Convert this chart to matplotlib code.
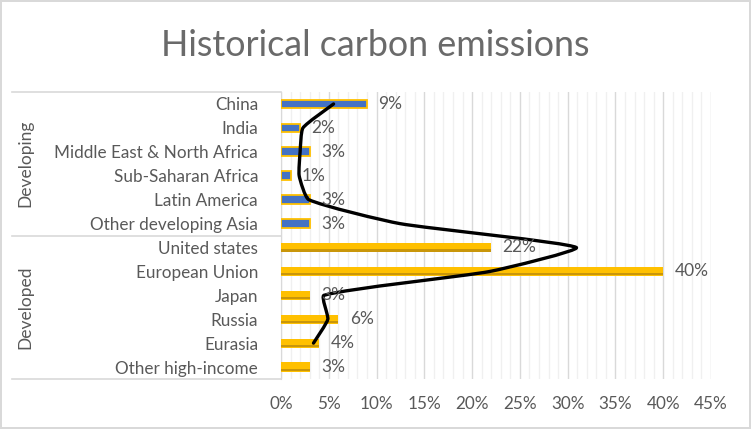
import matplotlib.pyplot as plt
import numpy as np
from matplotlib.path import Path
from matplotlib.patches import PathPatch
from matplotlib.ticker import MultipleLocator, FuncFormatter
from matplotlib.transforms import blended_transform_factory

regions = ["China", "India", "Middle East & North Africa", "Sub-Saharan Africa",
           "Latin America", "Other developing Asia", "United states", "European Union",
           "Japan", "Russia", "Eurasia", "Other high-income"]
groups = ["Developing", "Developed"]
group_sizes = [6, 6]
shares = [9, 2, 3, 1, 3, 3, 22, 40, 3, 6, 4, 3]
# black smoothed line, one point per row (no point on the last row)
trend = [5.5, 2.3, 2.0, 1.9, 2.9, 12.4, 30.9, 21.9, 4.5, 4.9, 3.4]

GREY = "#595959"
FONT = "Lato"


def smooth_path(ax, xs, ys):
    # bezier segments through the points, arms shrunk by the neighbouring
    # segment lengths (worked out in pixels so x and y count the same)
    to_px = ax.transData
    pts = to_px.transform(np.column_stack([xs, ys]).astype(float))
    ext = np.vstack([pts[0], pts, pts[-1]])
    verts = [pts[0]]
    codes = [Path.MOVETO]
    for i in range(1, len(ext) - 2):
        p0, p1, p2, p3 = ext[i - 1], ext[i], ext[i + 1], ext[i + 2]
        d01 = np.hypot(*(p1 - p0))
        d12 = np.hypot(*(p2 - p1))
        d23 = np.hypot(*(p3 - p2))
        a = d12 / (d01 + d12) if d01 + d12 > 0 else 0
        b = d12 / (d12 + d23) if d12 + d23 > 0 else 0
        verts += [p1 + (p2 - p0) / 6 * a, p2 - (p3 - p1) / 6 * b, p2]
        codes += [Path.CURVE4] * 3
    verts = to_px.inverted().transform(np.array(verts))
    return Path(verts, codes)


fig = plt.figure(figsize=(7.51, 4.29), dpi=100)
fig.patch.set_edgecolor("#d9d9d9")
fig.patch.set_linewidth(1.5)
ax = fig.add_axes([281 / 751, 1 - 379 / 429, 430 / 751, 287 / 429])

n_dev = group_sizes[0]
rows = np.arange(len(regions))
ax.set_xlim(0, 45)
ax.set_ylim(len(regions) - 0.5, -0.5)

for i, v in enumerate(shares):
    if i < n_dev:
        ax.barh(i, v, height=0.36, color="#4472C4", edgecolor="#FFC000",
                linewidth=1.3, zorder=3)
    else:
        ax.barh(i, v, height=0.38, color="#FFC000", linewidth=0, zorder=3)
        ax.barh(i + 0.12, v, height=0.1, color="#C9960A", linewidth=0, zorder=3)
    ax.text(v + 1.2, i, f"{v}%", va="center", ha="left", color=GREY,
            fontsize=12.5, family=FONT, zorder=5)

ax.add_patch(PathPatch(smooth_path(ax, trend, rows[:len(trend)]), facecolor="none",
                       edgecolor="black", linewidth=2.4, zorder=4,
                       capstyle="round", joinstyle="round"))

ax.set_yticks(rows)
ax.set_yticklabels(regions)
ax.xaxis.set_major_locator(MultipleLocator(5))
ax.xaxis.set_minor_locator(MultipleLocator(1))
ax.xaxis.set_major_formatter(FuncFormatter(lambda v, p: f"{v:.0f}%"))
ax.grid(axis="x", which="major", color="#d9d9d9", linewidth=1, zorder=0)
ax.grid(axis="x", which="minor", color="#f0f0f0", linewidth=1, zorder=0)
ax.set_axisbelow(True)
ax.tick_params(which="both", length=0, colors=GREY, labelsize=12.3)
ax.tick_params(axis="y", pad=16.5)
ax.tick_params(axis="x", pad=12)
for lab in ax.get_xticklabels() + ax.get_yticklabels():
    lab.set_family(FONT)
for s in ["top", "right", "bottom"]:
    ax.spines[s].set_visible(False)
ax.spines["left"].set_color("#d9d9d9")

# group boxes on the left
tr = blended_transform_factory(fig.transFigure, ax.transData)
start = 0
bounds = [-0.5]
for g, size in zip(groups, group_sizes):
    mid = start + (size - 1) / 2
    fig.text(25 / 751, 0, g, rotation=90, va="center", ha="center", color=GREY,
             fontsize=12.5, family=FONT, transform=tr).set_y(mid)
    start += size
    bounds.append(start - 0.5)
for b in bounds:
    ax.plot([12 / 751, 281 / 751], [b, b], color="#d9d9d9", linewidth=1.2,
            transform=tr, clip_on=False)

fig.text(0.5, 1 - 46 / 429, "Historical carbon emissions", ha="center", va="center",
         color="#6a6a6a", fontsize=25.8, family=FONT)

fig.savefig("out.png", dpi=100, edgecolor=fig.get_edgecolor())
